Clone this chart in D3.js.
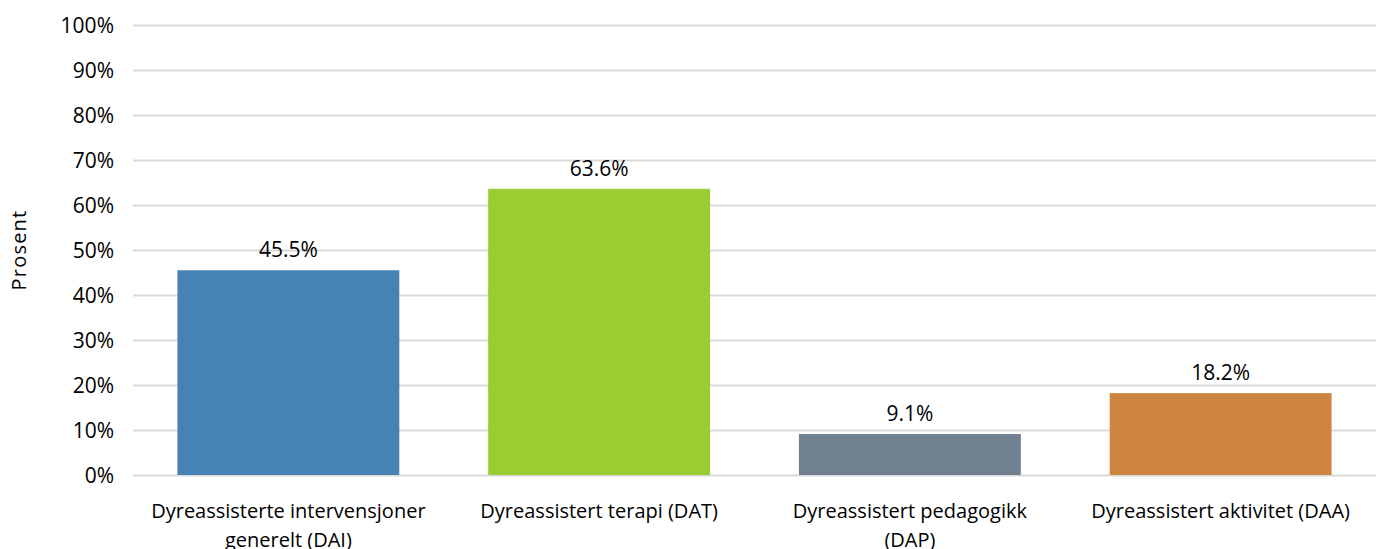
<!DOCTYPE html>
<html>
<head>
<meta charset="utf-8">
<script src="https://cdn.jsdelivr.net/npm/d3@7"></script>
<style>
  body { margin: 0; background: #fff; }
  svg { display: block; font-family: "Open Sans", "DejaVu Sans", sans-serif; }
</style>
</head>
<body>
<div id="chart"></div>
<script>
// data
const categories = [
  ['Dyreassisterte intervensjoner', 'generelt (DAI)'],
  ['Dyreassistert terapi (DAT)'],
  ['Dyreassistert pedagogikk', '(DAP)'],
  ['Dyreassistert aktivitet (DAA)']
];
const values = [45.5, 63.6, 9.1, 18.2];
const barColors = ['#4682b4', '#9acd32', '#708090', '#cd853f'];
const yTicks = [0, 10, 20, 30, 40, 50, 60, 70, 80, 90, 100];

const W = 1383, H = 549;
const margin = { top: 25, right: 7, bottom: 74, left: 133 };

const svg = d3.select('#chart').append('svg')
  .attr('width', W)
  .attr('height', H);

const x = d3.scaleBand()
  .domain(d3.range(categories.length))
  .range([margin.left, W - margin.right])
  .paddingInner(0.286)
  .paddingOuter(0.143);

const y = d3.scaleLinear()
  .domain([0, 100])
  .range([H - margin.bottom, margin.top]);

// gridlines + tick labels
const yAxis = svg.append('g')
  .attr('transform', `translate(${margin.left},0)`)
  .call(d3.axisLeft(y)
    .tickValues(yTicks)
    .tickSize(-(W - margin.left - margin.right))
    .tickPadding(19)
    .tickFormat(d => d + '%'));
yAxis.select('.domain').remove();
yAxis.selectAll('.tick line')
  .attr('stroke', '#d9d9d9')
  .attr('stroke-width', 2);
yAxis.selectAll('.tick text')
  .attr('fill', '#000')
  .attr('dy', '0.36em')
  .style('font-size', '21px')
  .style('font-family', '"Open Sans", sans-serif');

svg.append('text')
  .attr('transform', `translate(26,${250}) rotate(-90)`)
  .attr('text-anchor', 'middle')
  .style('font-size', '20px')
  .style('letter-spacing', '1.2px')
  .text('Prosent');

// bars
svg.append('g')
  .selectAll('rect')
  .data(values)
  .join('rect')
  .attr('x', (d, i) => x(i))
  .attr('y', d => y(d))
  .attr('width', x.bandwidth())
  .attr('height', d => y(0) - y(d))
  .attr('fill', (d, i) => barColors[i]);

// value labels
svg.append('g')
  .selectAll('text')
  .data(values)
  .join('text')
  .attr('x', (d, i) => x(i) + x.bandwidth() / 2)
  .attr('y', d => y(d) - 13)
  .attr('text-anchor', 'middle')
  .style('font-size', '21px')
  .text(d => d.toFixed(1) + '%');

// category labels
const cat = svg.append('g')
  .selectAll('text')
  .data(categories)
  .join('text')
  .attr('x', (d, i) => x(i) + x.bandwidth() / 2)
  .attr('y', 518)
  .attr('text-anchor', 'middle')
  .style('font-size', '20px');
cat.selectAll('tspan')
  .data(d => d)
  .join('tspan')
  .attr('x', function () { return d3.select(this.parentNode).attr('x'); })
  .attr('dy', (d, i) => i === 0 ? 0 : 29)
  .text(d => d);
</script>
</body>
</html>
